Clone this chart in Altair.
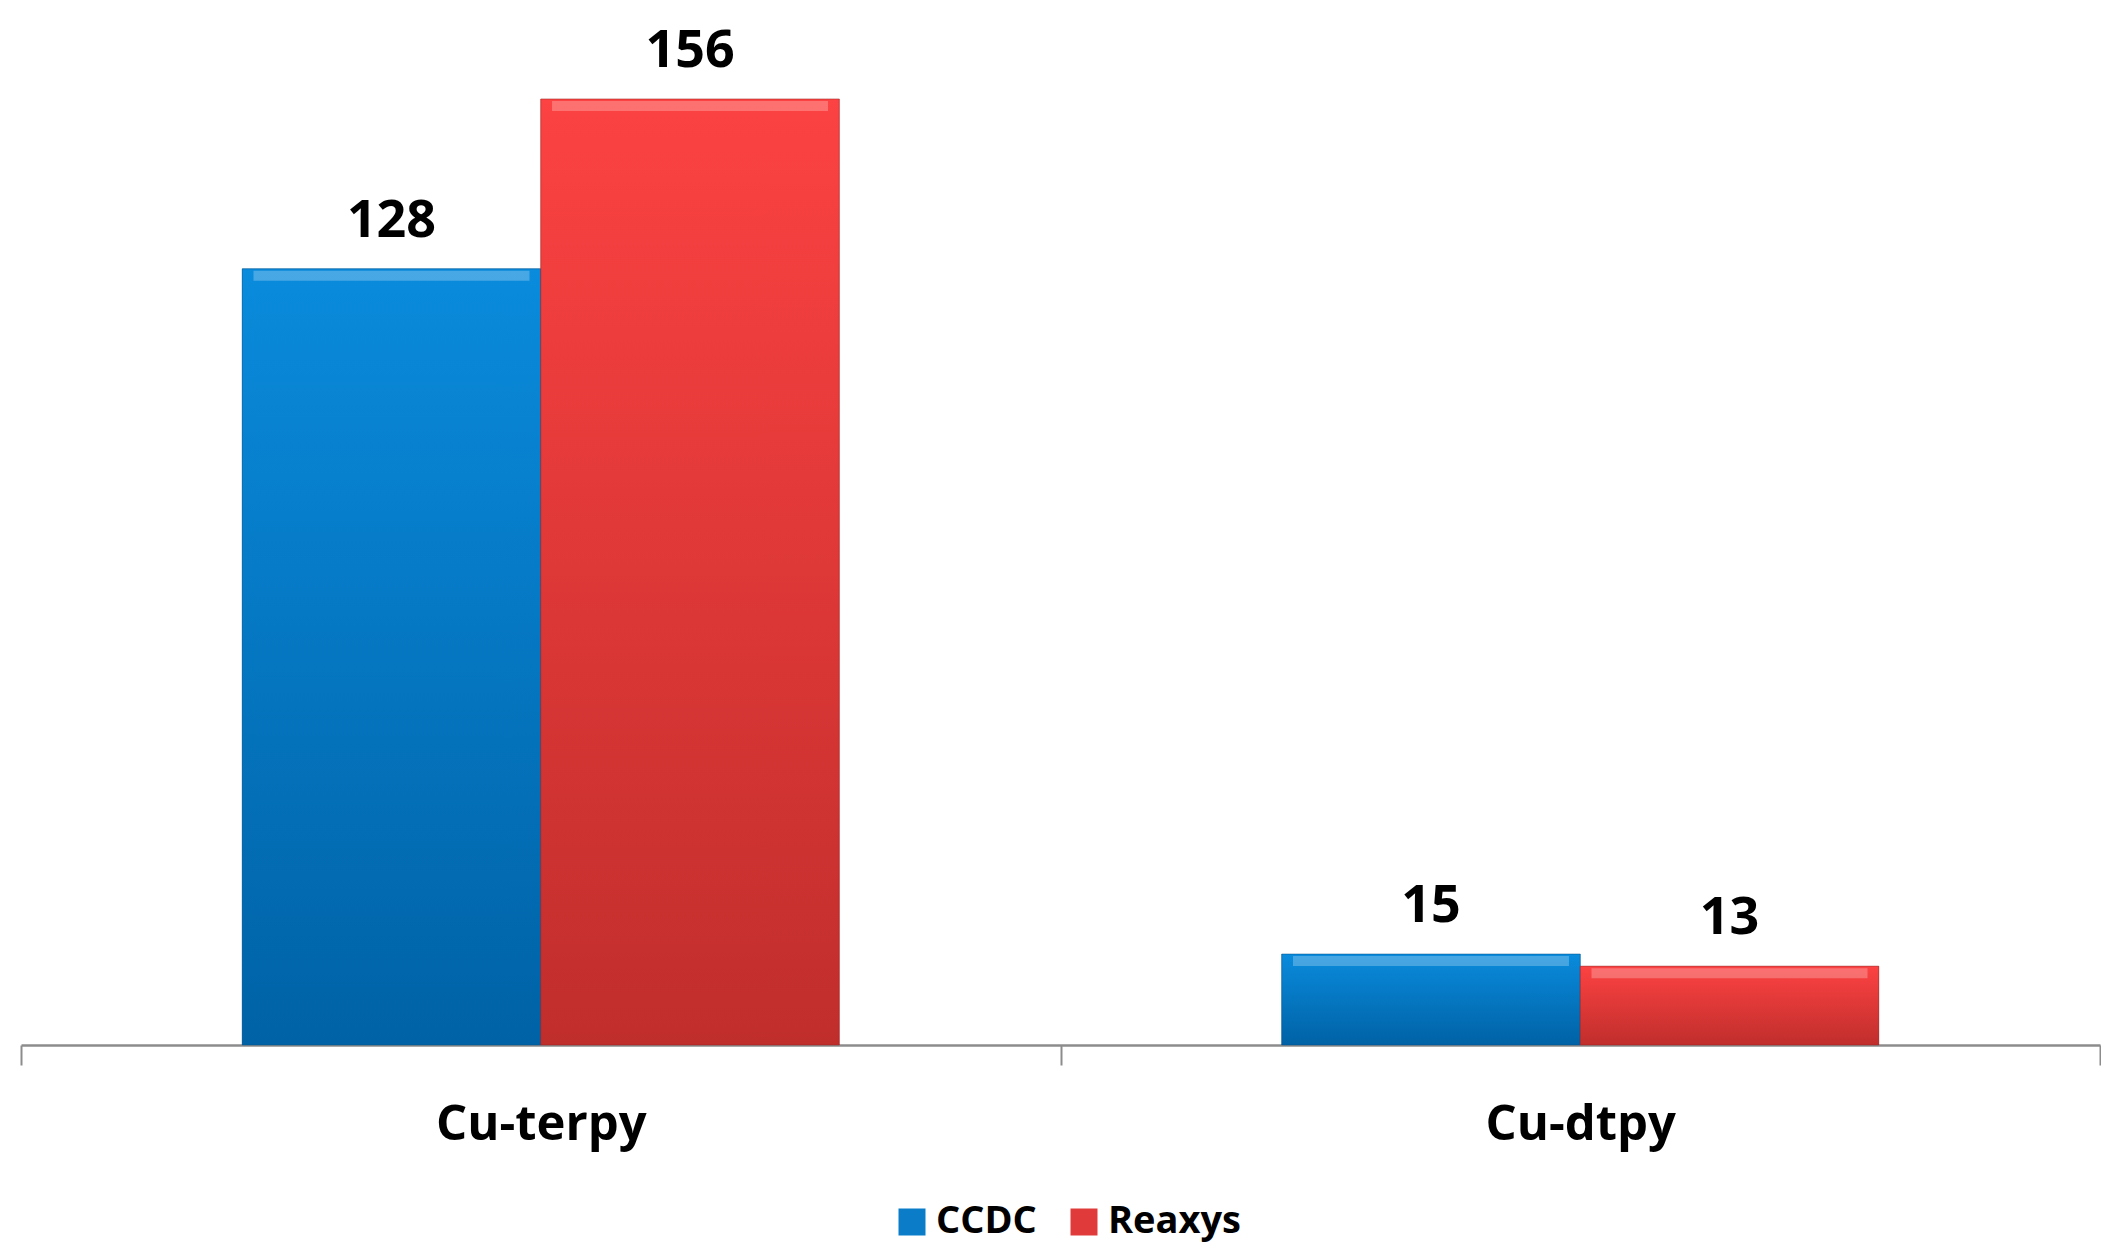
import altair as alt
import pandas as pd

categories = ["Cu-terpy", "Cu-dtpy"]
series = ["CCDC", "Reaxys"]
ccdc_values = [128, 15]
reaxys_values = [156, 13]

rows = []
for i, c in enumerate(categories):
    rows.append({"cat": c, "series": "CCDC", "value": ccdc_values[i]})
    rows.append({"cat": c, "series": "Reaxys", "value": reaxys_values[i]})
df = pd.DataFrame(rows)

FONT = "Open Sans"

x = alt.X(
    "cat:N", sort=categories,
    scale=alt.Scale(paddingInner=0, paddingOuter=0),
    axis=alt.Axis(title=None, labelAngle=0, labelFont=FONT, labelFontWeight="bold",
                  labelFontSize=49, labelColor="#000000", domainColor="#8c8c8c",
                  domainWidth=2.5, tickColor="#8c8c8c", tickWidth=2, tickSize=20,
                  tickBand="extent", labelPadding=35, labelLimit=0, grid=False),
)
xo = alt.XOffset("series:N", sort=series,
                 scale=alt.Scale(domain=series, paddingInner=0, paddingOuter=0.741))
y = alt.Y("value:Q", scale=alt.Scale(domain=[0, 171], nice=False), axis=None)

color = alt.Color(
    "series:N", sort=series,
    scale=alt.Scale(domain=series, range=["#0a7cc8", "#e03a3a"]),
    legend=alt.Legend(title=None, orient="none", legendX=872, legendY=1195,
                      direction="horizontal", symbolType="square", symbolSize=729,
                      labelFont=FONT, labelFontSize=38, labelFontWeight="bold",
                      labelColor="#000000", columnPadding=28, symbolStrokeWidth=0,
                      labelOffset=5, labelLimit=0),
)

base = alt.Chart(df).mark_bar().encode(x=x, xOffset=xo, y=y, color=color)

blue_grad = alt.Gradient(gradient="linear", x1=0, x2=0, y1=0, y2=1,
                         stops=[alt.GradientStop(color="#0a8bdc", offset=0),
                                alt.GradientStop(color="#0062a6", offset=1)])
red_grad = alt.Gradient(gradient="linear", x1=0, x2=0, y1=0, y2=1,
                        stops=[alt.GradientStop(color="#fc4242", offset=0),
                               alt.GradientStop(color="#c02e2c", offset=1)])

blue = alt.Chart(df).transform_filter(alt.datum.series == "CCDC").mark_bar(
    fill=blue_grad, stroke="#00508a", strokeWidth=1, strokeOpacity=0.5
).encode(x=x, xOffset=xo, y=y)
red = alt.Chart(df).transform_filter(alt.datum.series == "Reaxys").mark_bar(
    fill=red_grad, stroke="#9a2020", strokeWidth=1, strokeOpacity=0.5
).encode(x=x, xOffset=xo, y=y)

bevel = alt.Chart(df).mark_tick(orient="horizontal", thickness=10, yOffset=7,
                                size=276, opacity=0.25, color="#ffffff").encode(
    x=x, xOffset=xo, y=y)

labels = alt.Chart(df).mark_text(font=FONT, fontWeight="bold", fontSize=52,
                                 baseline="alphabetic", dy=-32, color="#000000").encode(
    x=x, xOffset=xo, y=y, text="value:Q")

chart = alt.layer(base, blue, red, bevel, labels).properties(
    width=2079, height=1037,
    padding={"left": 12, "top": 0, "right": 0, "bottom": 60},
).configure_view(stroke=None)

chart.save("out.html", embed_options={"renderer": "svg", "actions": False})
